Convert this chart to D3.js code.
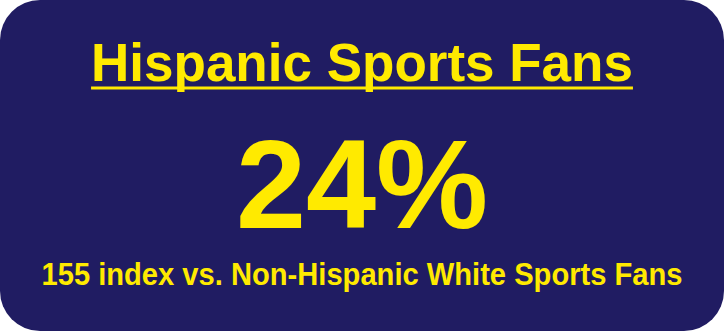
<!DOCTYPE html>
<html>
<head>
<meta charset="utf-8">
<script src="https://cdn.jsdelivr.net/npm/d3@7"></script>
<style>
  html, body { margin: 0; padding: 0; background: #fff; }
  svg { display: block; }
</style>
</head>
<body>
<div id="card"></div>
<script>
// card content
var headline = ["Hispanic Sports Fans"];
var statValue = [24];
var statUnit = ["%"];
var subline = ["155 index vs. Non-Hispanic White Sports Fans"];

var W = 727, H = 332;
var navy = "#201c62", yellow = "#ffea00";

var svg = d3.select("#card").append("svg")
    .attr("width", W)
    .attr("height", H);

svg.append("rect")
    .attr("x", 0).attr("y", 0)
    .attr("width", 724).attr("height", 331)
    .attr("rx", 40).attr("ry", 40)
    .style("fill", navy);

var cx = 362;
var font = "'Liberation Sans', Arial, sans-serif";

// title + underline
var title = svg.selectAll("text.title")
    .data(headline)
    .enter()
    .append("text")
    .attr("class", "title")
    .attr("x", cx)
    .attr("y", 81)
    .attr("text-anchor", "middle")
    .style("font-family", font)
    .style("font-weight", "bold")
    .style("font-size", "53px")
    .style("fill", yellow)
    .text(function(d){ return d; });

var bb = title.node().getBBox();
svg.append("rect")
    .attr("x", bb.x)
    .attr("y", 86.5)
    .attr("width", bb.width)
    .attr("height", 3)
    .style("fill", yellow);

// big number
svg.selectAll("text.stat")
    .data(statValue)
    .enter()
    .append("text")
    .attr("class", "stat")
    .attr("x", cx)
    .attr("y", 228)
    .attr("text-anchor", "middle")
    .style("font-family", font)
    .style("font-weight", "bold")
    .style("font-size", "126px")
    .style("fill", yellow)
    .text(function(d, i){ return d + statUnit[i]; });

// footer line (slightly condensed, like the original)
svg.selectAll("text.sub")
    .data(subline)
    .enter()
    .append("text")
    .attr("class", "sub")
    .attr("x", cx)
    .attr("y", 285)
    .attr("text-anchor", "middle")
    .attr("textLength", 641)
    .attr("lengthAdjust", "spacingAndGlyphs")
    .style("font-family", font)
    .style("font-weight", "bold")
    .style("font-size", "30.5px")
    .style("fill", yellow)
    .text(function(d){ return d; });
</script>
</body>
</html>
